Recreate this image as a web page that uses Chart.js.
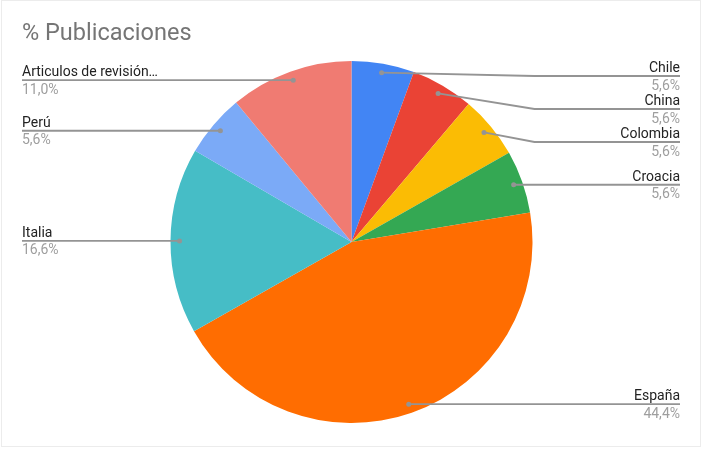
<!DOCTYPE html>
<html>
<head>
<meta charset="utf-8">
<script src="https://cdn.jsdelivr.net/npm/chart.js@4"></script>
<style>
  html, body { margin: 0; padding: 0; background: #fff; }
  #wrap { width: 703px; height: 450px; position: relative; }
</style>
</head>
<body>
<div id="wrap"><canvas id="pieChart" width="703" height="450"></canvas></div>
<script>
// Chart data
const categories = ['Chile', 'China', 'Colombia', 'Croacia', 'España', 'Italia', 'Perú', 'Articulos de revisión…'];
const shares = [5.6, 5.6, 5.6, 5.6, 44.4, 16.6, 5.6, 11.0];
const sliceColors = ['#4285f4', '#ea4335', '#fbbc04', '#34a853', '#ff6d01', '#46bdc6', '#7baaf7', '#f07b72'];
const chartTitle = '% Publicaciones';

function formatShare(v) {
    return v.toFixed(1).replace('.', ',') + '%';
}

// Leader lines + labels, Google Sheets style
const leaderLabels = {
    id: 'leaderLabels',
    beforeDraw(chart) {
        const ctx = chart.ctx;
        ctx.save();
        ctx.strokeStyle = '#ececec';
        ctx.lineWidth = 1;
        ctx.strokeRect(1.5, 0.5, chart.width - 4, chart.height - 4);
        ctx.restore();
    },
    afterDraw(chart) {
        const ctx = chart.ctx;
        const meta = chart.getDatasetMeta(0);
        const left = [], right = [];

        meta.data.forEach((arc, i) => {
            const p = arc.getProps(['x', 'y', 'startAngle', 'endAngle', 'outerRadius'], true);
            const mid = (p.startAngle + p.endAngle) / 2;
            const r = p.outerRadius * 0.95;
            const item = {
                i: i,
                cx: p.x,
                R: p.outerRadius,
                dx: p.x + Math.cos(mid) * r,
                dy: p.y + Math.sin(mid) * r
            };
            item.ly = item.dy;
            (Math.cos(mid) >= 0 ? right : left).push(item);
        });

        // push labels apart
        [left, right].forEach(side => {
            side.sort((a, b) => a.dy - b.dy);
            if (side.length > 1 && side[0].ly < 76) side[0].ly = 76;
            for (let k = 1; k < side.length; k++) {
                if (side[k].ly < side[k - 1].ly + 33) {
                    side[k].ly = side[k - 1].ly + 33;
                }
            }
        });

        ctx.save();
        // title
        ctx.font = '23.5px Roboto';
        ctx.fillStyle = '#757575';
        ctx.textAlign = 'left';
        ctx.textBaseline = 'middle';
        ctx.fillText(chartTitle, 22, 34);

        const drawItem = (it, isRight) => {
            const elbowX = isRight ? it.cx + it.R + 2 : it.cx - it.R - 2;
            const endX = isRight ? 680 : 22;
            ctx.strokeStyle = '#949494';
            ctx.lineWidth = 1.8;
            ctx.beginPath();
            ctx.moveTo(it.dx, it.dy);
            ctx.lineTo(elbowX, it.ly);
            ctx.lineTo(endX, it.ly);
            ctx.stroke();

            ctx.fillStyle = '#949494';
            ctx.beginPath();
            ctx.arc(it.dx, it.dy, 2.5, 0, Math.PI * 2);
            ctx.fill();

            ctx.textAlign = isRight ? 'right' : 'left';
            ctx.font = '14px Roboto';
            ctx.textBaseline = 'alphabetic';
            ctx.fillStyle = '#222222';
            ctx.fillText(categories[it.i], endX, it.ly - 4);
            ctx.textBaseline = 'top';
            ctx.fillStyle = '#9e9e9e';
            ctx.fillText(formatShare(shares[it.i]), endX, it.ly + 3);
        };
        right.forEach(it => drawItem(it, true));
        left.forEach(it => drawItem(it, false));
        ctx.restore();
    }
};

new Chart(document.getElementById('pieChart'), {
    type: 'pie',
    data: {
        labels: categories,
        datasets: [{
            data: shares,
            backgroundColor: sliceColors,
            borderWidth: 0
        }]
    },
    options: {
        responsive: false,
        animation: false,
        layout: {
            padding: { top: 61, bottom: 27, left: 0, right: 0 }
        },
        plugins: {
            legend: { display: false },
            tooltip: { enabled: false },
            title: { display: false }
        }
    },
    plugins: [leaderLabels]
});
</script>
</body>
</html>
